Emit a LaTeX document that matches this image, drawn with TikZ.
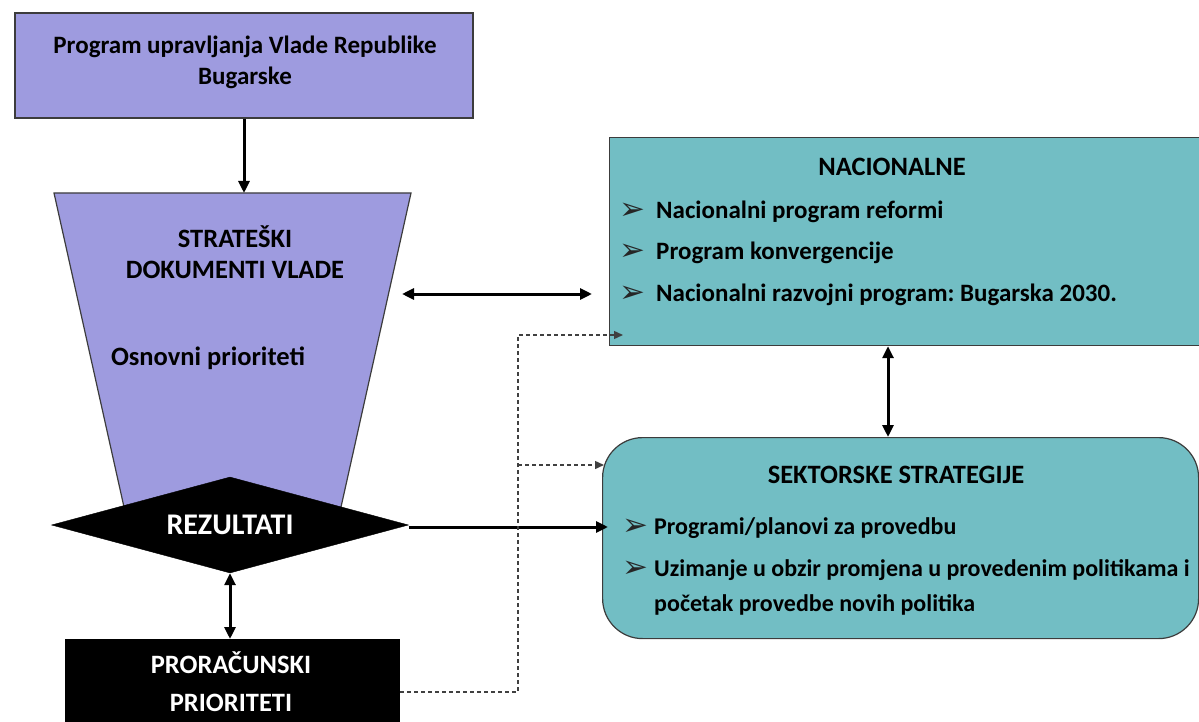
\documentclass[tikz,border=0pt]{standalone}
\usepackage{fontspec}
\setmainfont{Carlito}
\newfontfamily\symfont{DejaVu Sans}
\usetikzlibrary{arrows.meta,shapes.geometric}
\definecolor{purp}{RGB}{158,155,223}
\definecolor{tealb}{RGB}{114,190,196}
\definecolor{edgec}{RGB}{60,60,60}
\frenchspacing
\begin{document}
\frenchspacing
\begin{tikzpicture}[x=1pt,y=-1pt,
  txt/.style={font=\fontsize{25}{31}\selectfont\bfseries, align=center, inner sep=0},
  caps/.style={font=\fontsize{26.5}{31}\selectfont\bfseries, align=center, inner sep=0},
  btxt/.style={font=\fontsize{25}{31}\selectfont\bfseries, anchor=west, inner sep=0},
  stxt/.style={font=\fontsize{24}{31}\selectfont\bfseries, anchor=west, inner sep=0},
  bul/.style={font=\fontsize{31}{34}\symfont, anchor=center, inner sep=0, text=black!85},
  arr/.style={line width=3pt, -{Triangle[length=12pt,width=11pt]}},
  darr/.style={line width=3pt, {Triangle[length=12pt,width=11pt]}-{Triangle[length=12pt,width=11pt]}},
  dotl/.style={line width=1.4pt, dash pattern=on 4pt off 3pt, draw=black!75},
  dtip/.style={-{Triangle[length=9pt,width=8pt]}},
]
\useasboundingbox (0,0) rectangle (1199,722);
\begin{scope}
\clip (0,0) rectangle (1199,722);
% top box
\node[draw=edgec, line width=1.2pt, fill=purp, minimum width=458pt, minimum height=105pt, inner sep=0] (gov) at (244,65.5) {};
\node[txt] (govt) at (245,62) {Program upravljanja Vlade Republike\\Bugarske};
% trapezoid
\path[draw=edgec, line width=1.2pt, fill=purp] (54,193) coordinate (tl) -- (411,193) coordinate (tr) -- (337,525) coordinate (br) -- (128,525) coordinate (bl) -- cycle;
\coordinate (stratTop) at (244,193);
\node[caps] (stratt) at (235,252) {STRATEŠKI\\DOKUMENTI VLADE};
\node[txt, font=\fontsize{26.5}{31}\selectfont\bfseries] (osn) at (208,358) {Osnovni prioriteti};
\draw[arr] (gov.south) -- (stratTop);
% diamond
\node[diamond, fill=black, draw=black, minimum width=357pt, minimum height=96pt, inner sep=0, aspect=3.7, text=white, font=\fontsize{30}{31}\selectfont\bfseries] (res) at (230,525) {REZULTATI};
% budget box
\node[fill=black, minimum width=335pt, minimum height=120pt, anchor=north, inner sep=0] (bud) at (232.5,639) {};
\node[caps, text=white, font=\fontsize{26.5}{38}\selectfont\bfseries] (budt) at (231,682) {PRORAČUNSKI\\PRIORITETI};
\draw[darr] (res.south) -- (res.south |- bud.north);
% national box
\node[draw=edgec, fill=tealb, line width=1.2pt, minimum width=600pt, minimum height=208pt, anchor=north west, inner sep=0] (nat) at (609,137) {};
\node[caps] (natt) at (892,167) {NACIONALNE};
\node[bul] (nb1) at (632,211) {➢};
\node[btxt] (n1) at (656,212) {Nacionalni program reformi};
\node[bul] (nb2) at (632,252) {➢};
\node[btxt] (n2) at (656,253) {Program konvergencije};
\node[bul] (nb3) at (632,294) {➢};
\node[btxt] (n3) at (656,295) {Nacionalni razvojni program: Bugarska 2030.};
% sector box
\node[draw=edgec, fill=tealb, line width=1.2pt, rounded corners=40pt, minimum width=596pt, minimum height=201pt, anchor=north west, inner sep=0] (sek) at (602,437) {};
\node[caps] (sekt) at (896,475) {SEKTORSKE STRATEGIJE};
\node[bul] (sb1) at (635,527) {➢};
\node[stxt] (s1) at (654,528) {Programi/planovi za provedbu};
\node[bul] (sb2) at (635,569) {➢};
\node[stxt] (s2) at (654,570) {Uzimanje u obzir promjena u provedenim politikama i};
\node[stxt] (s3) at (654,605) {početak provedbe novih politika};
% connectors
\coordinate (hL) at (402,294);
\draw[darr, shorten >=17pt] (hL) -- (hL -| nat.west);
\coordinate (vx) at (888,400);
\draw[darr] (nat.south -| vx) -- (sek.north -| vx);
\coordinate (ry) at (0,527);
\draw[arr, shorten >=-6pt] (res.east |- ry) -- (sek.west |- ry);
\coordinate (dj) at (518,692);
\coordinate (du) at (518,335);
\coordinate (dm) at (518,465);
\draw[dotl, dtip] (bud.east |- dj) -- (dj) -- (du) -- ++(105,0);
\draw[dotl, dtip] (dm) -- (604,465);
\end{scope}
\end{tikzpicture}
\end{document}
